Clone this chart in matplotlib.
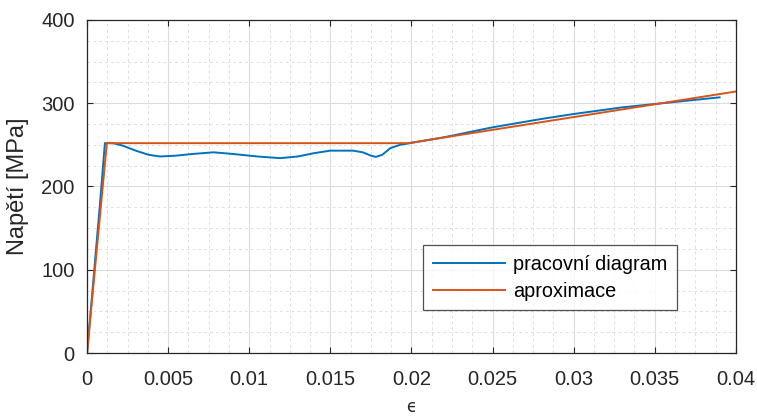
from matplotlib import pyplot as plt
from matplotlib.ticker import MultipleLocator, StrMethodFormatter
import numpy as np

# measured stress-strain curve
eps_meas = [0.0, 0.0004, 0.0008, 0.0011, 0.0016, 0.0022, 0.0030, 0.0038, 0.0045,
            0.0055, 0.0065, 0.0078, 0.0090, 0.0105, 0.0119, 0.0130, 0.0140,
            0.0150, 0.0158, 0.0164, 0.0170, 0.0175, 0.0178, 0.0182, 0.0187,
            0.0193, 0.0199, 0.0220, 0.0250, 0.0280, 0.0300, 0.0330, 0.0350,
            0.0370, 0.0390]
sig_meas = [0, 90, 180, 252, 252, 249, 243, 238, 236, 237, 239, 241, 239, 236,
            234, 236, 240, 243, 243, 243, 241, 237, 235.5, 238, 246, 250, 252,
            259, 271, 281, 287, 295, 299, 303, 307]

# bilinear approximation
eps_apx = [0.0, 0.00122, 0.0198, 0.04]
sig_apx = [0, 252, 252, 314]

plt.rcParams['font.family'] = ['Liberation Sans', 'DejaVu Sans']

fig = plt.figure(figsize=(7.57, 4.19), dpi=100)
ax = fig.add_axes([0.115, 0.1575, 0.857, 0.795])

ax.plot(eps_meas, sig_meas, color='#0072BD', lw=1.4, label='pracovní diagram')
ax.plot(eps_apx, sig_apx, color='#D95319', lw=1.4, label='aproximace')

ax.set_xlim(0, 0.04)
ax.set_ylim(0, 400)
ax.xaxis.set_major_locator(MultipleLocator(0.005))
ax.xaxis.set_minor_locator(MultipleLocator(0.00125))
ax.yaxis.set_major_locator(MultipleLocator(100))
ax.yaxis.set_minor_locator(MultipleLocator(25))
ax.xaxis.set_major_formatter(StrMethodFormatter('{x:g}'))

ax.grid(which='major', color='#dcdcdc', lw=0.8, ls='-')
ax.grid(which='minor', color='#e0e0e0', lw=0.7, ls=(0, (3, 3)))
ax.set_axisbelow(True)

ax.tick_params(which='major', direction='in', length=4, width=0.8, color='#262626',
               top=True, right=True, labelsize=14.5, labelcolor='#262626')
ax.tick_params(axis='x', pad=12)
ax.tick_params(axis='y', pad=9)
ax.tick_params(which='minor', length=0)
for s in ax.spines.values():
    s.set_color('#262626')
    s.set_linewidth(0.9)

ax.set_ylabel('Napětí [MPa]', fontsize=17, color='#262626', labelpad=9)
ax.set_xlabel('\u03f5', fontsize=12, color='#262626', labelpad=7,
              family=['DejaVu Sans'])

leg = ax.legend(loc='lower left', bbox_to_anchor=(0.503, 0.098), fontsize=14.3,
                frameon=True, fancybox=False, edgecolor='#262626',
                handlelength=3.6, borderpad=0.5, labelspacing=0.4, handletextpad=0.4)
leg.get_frame().set_linewidth(0.9)

plt.savefig('out.png', dpi=100)
